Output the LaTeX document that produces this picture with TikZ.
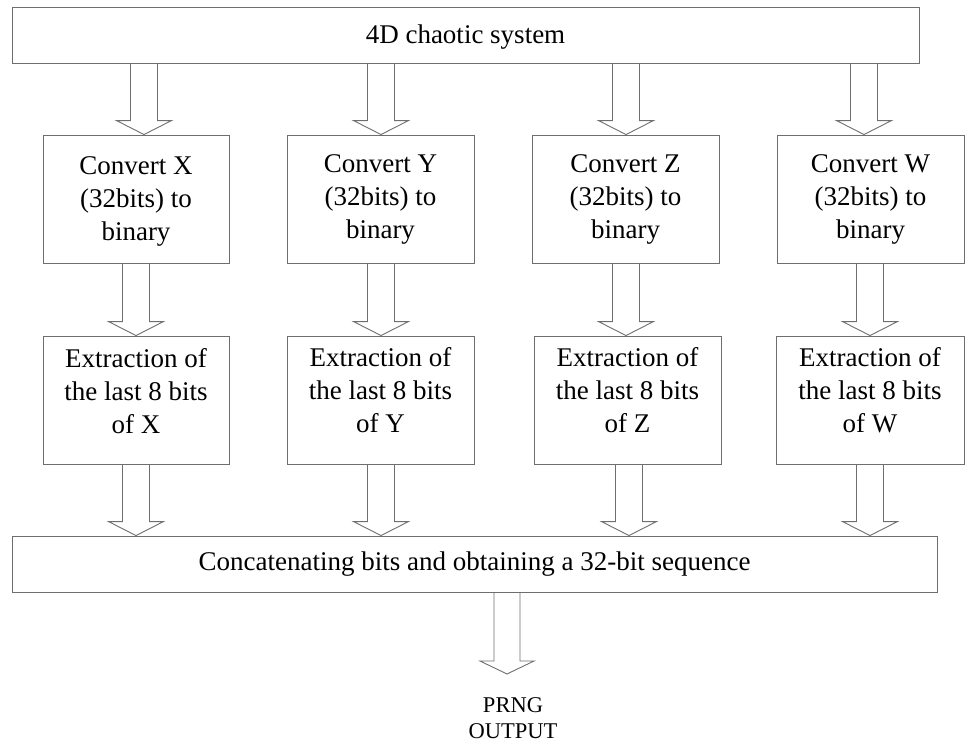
\documentclass[tikz,border=0pt]{standalone}
\usepackage{fontspec}
\setmainfont{Liberation Serif}
\usetikzlibrary{calc}
\definecolor{lc}{RGB}{110,110,110}
\tikzset{
  box/.style={draw=lc, line width=0.9pt, inner sep=0pt, align=center, font=\fontsize{27}{33}\selectfont, text=black},
  txt/.style={inner sep=0pt, align=center, font=\fontsize{27}{33}\selectfont, text=black},
  barr/.style={draw=lc, line width=0.9pt, line join=miter},
}
\newcommand\barrow[3]{%
  \draw[barr] let \p1=(#2.south), \p2=(#3.north) in
    (#1pt-13.5pt,\y1) -- (#1pt-13.5pt,\y2+14pt) -- (#1pt-27.5pt,\y2+14pt) -- (#1pt,\y2)
    -- (#1pt+27.5pt,\y2+14pt) -- (#1pt+13.5pt,\y2+14pt) -- (#1pt+13.5pt,\y1);}
\begin{document}
\begin{tikzpicture}[x=1pt,y=-1pt]
\useasboundingbox (0,0) rectangle (967,742);
% top
\node[box, minimum width=907pt, minimum height=56pt] (sys) at (465.5,35) {};
\node[txt] (systxt) at (465.5,37) {4D chaotic system};
% row 1
\node[box, minimum width=186pt, minimum height=128pt] (cx) at (136,199) {};
\node[box, minimum width=187pt, minimum height=128pt] (cy) at (380.5,199) {};
\node[box, minimum width=187pt, minimum height=128pt] (cz) at (625.5,199) {};
\node[box, minimum width=187pt, minimum height=128pt] (cw) at (870.5,199) {};
\node[txt] (cxt) at (136,201) {Convert X\\(32bits) to\\binary};
\node[txt] (cyt) at (380.5,199) {Convert Y\\(32bits) to\\binary};
\node[txt] (czt) at (625.5,199) {Convert Z\\(32bits) to\\binary};
\node[txt] (cwt) at (870.5,199) {Convert W\\(32bits) to\\binary};
% row 2
\node[box, minimum width=186pt, minimum height=128pt] (ex) at (136,400) {};
\node[box, minimum width=187pt, minimum height=128pt] (ey) at (380.5,400) {};
\node[box, minimum width=187pt, minimum height=128pt] (ez) at (627.5,400) {};
\node[box, minimum width=188pt, minimum height=128pt] (ew) at (870,400) {};
\node[txt] (ext) at (136,391) {Extraction of\\the last 8 bits\\of X};
\node[txt] (eyt) at (380.5,390) {Extraction of\\the last 8 bits\\of Y};
\node[txt] (ezt) at (627.5,390) {Extraction of\\the last 8 bits\\of Z};
\node[txt] (ewt) at (870,390) {Extraction of\\the last 8 bits\\of W};
% bottom
\node[box, minimum width=925pt, minimum height=56pt] (cat) at (474.5,564) {};
\node[txt] (cattxt) at (474.5,564) {Concatenating bits and obtaining a 32-bit sequence};
\coordinate (outtip) at (507,674);
\node[align=center, inner sep=0pt, font=\fontsize{22.5}{26}\selectfont] (out) at (513,718) {PRNG\\OUTPUT};
% arrows
\barrow{144}{sys}{cx}
\barrow{381}{sys}{cy}
\barrow{626}{sys}{cz}
\barrow{864}{sys}{cw}
\barrow{136}{cx}{ex}
\barrow{381}{cy}{ey}
\barrow{626}{cz}{ez}
\barrow{870}{cw}{ew}
\barrow{136}{ex}{cat}
\barrow{381}{ey}{cat}
\barrow{629}{ez}{cat}
\barrow{870}{ew}{cat}
\draw[barr] let \p1=(cat.south), \p2=(outtip) in
    (494pt,\y1) -- (494pt,\y2+13pt) -- (480pt,\y2+13pt) -- (\x2,\y2)
    -- (534pt,\y2+13pt) -- (520pt,\y2+13pt) -- (520pt,\y1);
\end{tikzpicture}
\end{document}
